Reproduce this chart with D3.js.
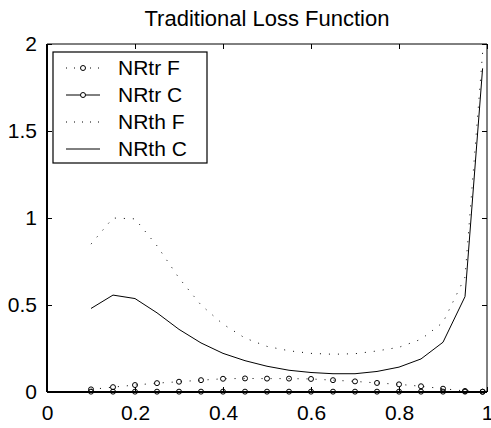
<!DOCTYPE html>
<html>
<head>
<meta charset="utf-8">
<script src="https://cdn.jsdelivr.net/npm/d3@7"></script>
<style>
    body { margin: 0; background: #fff; }
    svg text { font-family: "Liberation Sans", Arial, sans-serif; fill: #000; }
</style>
</head>
<body>
<svg id="chart"></svg>
<script>
// data
const xVals = [0.1, 0.15, 0.2, 0.25, 0.3, 0.35, 0.4, 0.45, 0.5, 0.55, 0.6, 0.65, 0.7, 0.75, 0.8, 0.85, 0.9, 0.95, 0.99];
const nrtrF = [0.015, 0.028, 0.040, 0.051, 0.059, 0.068, 0.076, 0.078, 0.077, 0.077, 0.075, 0.068, 0.061, 0.052, 0.044, 0.033, 0.019, 0.006, 0.001];
const nrtrC = [0.002, 0.002, 0.002, 0.002, 0.002, 0.002, 0.002, 0.002, 0.002, 0.002, 0.002, 0.002, 0.002, 0.002, 0.002, 0.002, 0.002, 0.002, 0.002];
const nrthF = [0.85, 1.0, 0.995, 0.84, 0.655, 0.50, 0.39, 0.31, 0.262, 0.237, 0.222, 0.217, 0.22, 0.236, 0.257, 0.303, 0.40, 0.66, 1.95];
const nrthC = [0.48, 0.557, 0.537, 0.455, 0.36, 0.282, 0.222, 0.18, 0.148, 0.125, 0.112, 0.105, 0.105, 0.118, 0.143, 0.19, 0.286, 0.548, 1.86];

const xTicks = [0, 0.2, 0.4, 0.6, 0.8, 1];
const yTicks = [0, 0.5, 1, 1.5, 2];
const title = "Traditional Loss Function";

const series = [
    { name: "NRtr F", values: nrtrF, dash: "1,8", marker: true },
    { name: "NRtr C", values: nrtrC, dash: null, marker: true },
    { name: "NRth F", values: nrthF, dash: "1,8", marker: false },
    { name: "NRth C", values: nrthC, dash: null, marker: false }
];

const width = 491, height = 428;
const margin = { left: 47, right: 4, top: 44, bottom: 36 };

let svg = d3.select("#chart")
    .attr("width", width)
    .attr("height", height);

let x = d3.scaleLinear().domain([0, 1]).range([margin.left, width - margin.right]);
let y = d3.scaleLinear().domain([0, 2]).range([height - margin.bottom, margin.top]);

// title
svg.append("text")
    .attr("x", (x(0) + x(1)) / 2)
    .attr("y", 26)
    .attr("text-anchor", "middle")
    .style("font-size", "22px")
    .text(title);

// bottom axis, ticks pointing in
let gx = svg.append("g")
    .attr("transform", "translate(0," + y(0) + ")")
    .call(d3.axisBottom(x).tickValues(xTicks).tickSize(-5).tickPadding(13)
        .tickFormat(d3.format("")));
gx.selectAll("text").style("font-size", "21px");

// left axis
let gy = svg.append("g")
    .attr("transform", "translate(" + x(0) + ",0)")
    .call(d3.axisLeft(y).tickValues(yTicks).tickSize(-5).tickPadding(10)
        .tickFormat(d3.format("")));
gy.selectAll("text").style("font-size", "21px");

// top and right ticks, no labels
svg.append("g")
    .attr("transform", "translate(0," + y(2) + ")")
    .call(d3.axisTop(x).tickValues(xTicks).tickSize(-5).tickFormat(""));
svg.append("g")
    .attr("transform", "translate(" + x(1) + ",0)")
    .call(d3.axisRight(y).tickValues(yTicks).tickSize(-5).tickFormat(""));

svg.selectAll(".domain").remove();

// box
svg.append("line").attr("x1", x(0)).attr("x2", x(1)).attr("y1", y(2)).attr("y2", y(2))
    .attr("stroke", "#000").attr("stroke-width", 1);
svg.append("line").attr("x1", x(1)).attr("x2", x(1)).attr("y1", y(2)).attr("y2", y(0))
    .attr("stroke", "#000").attr("stroke-width", 1);
svg.append("line").attr("x1", x(0)).attr("x2", x(1)).attr("y1", y(0)).attr("y2", y(0))
    .attr("stroke", "#000").attr("stroke-width", 2);
svg.append("line").attr("x1", x(0)).attr("x2", x(0)).attr("y1", y(2)).attr("y2", y(0))
    .attr("stroke", "#000").attr("stroke-width", 2);

// lines
let lineFn = d3.line()
    .x((d, i) => x(xVals[i]))
    .y(d => y(d));

let lines = svg.append("g").attr("class", "lines");
series.forEach(s => {
    lines.append("path")
        .attr("d", lineFn(s.values))
        .attr("fill", "none")
        .attr("stroke", "#000")
        .attr("stroke-width", 1)
        .attr("stroke-dasharray", s.dash);
    if (s.marker) {
        lines.selectAll(null)
            .data(s.values).enter()
            .append("circle")
            .attr("cx", (d, i) => x(xVals[i]))
            .attr("cy", d => y(d))
            .attr("r", 2.5)
            .attr("fill", "none")
            .attr("stroke", "#000")
            .attr("stroke-width", 1);
    }
});

// legend
let legend = svg.append("g").attr("class", "legend");
legend.append("rect")
    .attr("x", 53).attr("y", 52)
    .attr("width", 154).attr("height", 111)
    .attr("fill", "#fff")
    .attr("stroke", "#000")
    .attr("stroke-width", 1.2);

series.forEach((s, i) => {
    let cy = 68 + i * 27;
    legend.append("line")
        .attr("x1", 66).attr("x2", 100)
        .attr("y1", cy).attr("y2", cy)
        .attr("stroke", "#000")
        .attr("stroke-width", 1)
        .attr("stroke-dasharray", s.dash ? "1,7" : null);
    if (s.marker) {
        legend.append("circle")
            .attr("cx", 83).attr("cy", cy).attr("r", 2.5)
            .attr("fill", "#fff").attr("stroke", "#000");
    }
    legend.append("text")
        .attr("x", 118).attr("y", cy)
        .attr("dy", "0.35em")
        .style("font-size", "21px")
        .text(s.name);
});
</script>
</body>
</html>
